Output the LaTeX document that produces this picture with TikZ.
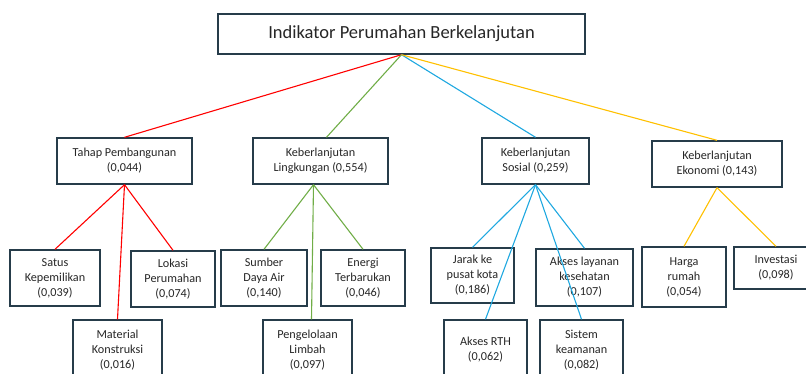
\documentclass[tikz,border=0pt]{standalone}
\usepackage{fontspec}
\setmainfont{Carlito}
\definecolor{bingkai}{HTML}{263C4A}
\definecolor{tahap}{HTML}{FF0000}
\definecolor{lingkungan}{HTML}{70AD47}
\definecolor{sosial}{HTML}{1FA8E0}
\definecolor{ekonomi}{HTML}{FFC000}
\usetikzlibrary{positioning}

\begin{document}
\begin{tikzpicture}[
  x=1pt, y=-1pt,
  ind/.style={draw=bingkai, line width=1.4pt, inner sep=0pt, align=center,
              font=\fontsize{12.2}{15}\selectfont, text=black!85},
  garis/.style={line width=1.1pt},
]
\useasboundingbox (0,0) rectangle (806,374);
\node[ind, minimum width=367pt, minimum height=40pt,
      font=\fontsize{18.5}{20}\selectfont] (utama) at (401.5,34)
  {Indikator Perumahan Berkelanjutan};

\node[ind, minimum width=135pt, minimum height=46pt] (k1) at (124.5,161)
  {Tahap Pembangunan\\(0,044)};
\node[ind, minimum width=135pt, minimum height=46pt] (k2) at (320.5,161)
  {Keberlanjutan\\Lingkungan (0,554)};
\node[ind, minimum width=107pt, minimum height=46pt] (k3) at (535.5,161)
  {Keberlanjutan\\Sosial (0,259)};
\node[ind, minimum width=130pt, minimum height=46pt] (k4) at (717,164)
  {Keberlanjutan\\Ekonomi (0,143)};

\node[ind, minimum width=90pt, minimum height=56pt] (s1) at (55,278)
  {Satus\\Kepemilikan\\(0,039)};
\node[ind, minimum width=84pt, minimum height=56pt] (s2) at (173,279)
  {Lokasi\\Perumahan\\(0,074)};
\node[ind, minimum width=89pt, minimum height=60pt] (s3) at (117.5,350)
  {Material\\Konstruksi\\(0,016)};

\node[ind, minimum width=86pt, minimum height=56pt] (l1) at (264,278)
  {Sumber\\Daya Air\\(0,140)};
\node[ind, minimum width=84pt, minimum height=56pt] (l2) at (363,278)
  {Energi\\Terbarukan\\(0,046)};
\node[ind, minimum width=89pt, minimum height=60pt] (l3) at (307.5,350)
  {Pengelolaan\\Limbah\\(0,097)};

\node[ind, minimum width=83pt, minimum height=55pt] (o1) at (472.5,275.5)
  {Jarak ke\\pusat kota\\(0,186)};
\node[ind, minimum width=97pt, minimum height=57pt] (o2) at (584.5,277.5)
  {Akses layanan\\kesehatan\\(0,107)};
\node[ind, minimum width=83pt, minimum height=60pt] (o3) at (485.5,350)
  {Akses RTH\\(0,062)};
\node[ind, minimum width=83pt, minimum height=60pt] (o4) at (581.5,350)
  {Sistem\\keamanan\\(0,082)};

\node[ind, minimum width=84pt, minimum height=60pt] (e1) at (684,277)
  {Harga\\rumah\\(0,054)};
\node[ind, minimum width=84pt, minimum height=42pt] (e2) at (776,268)
  {Investasi\\(0,098)};

\draw[garis, tahap] (utama.south) -- (k1.north);
\draw[garis, lingkungan] (utama.south) -- ([xshift=6pt]k2.north);
\draw[garis, sosial] (utama.south) -- (k3.north);
\draw[garis, ekonomi] (utama.south) -- (k4.north);

\draw[garis, tahap] (k1.south) -- (s1.north);
\draw[garis, tahap] (k1.south) -- (s2.north);
\draw[garis, tahap] (k1.south) -- (s3.north);

\draw[garis, lingkungan] ([xshift=-7pt]k2.south) -- (l1.north);
\draw[garis, lingkungan] ([xshift=-7pt]k2.south) -- (l2.north);
\draw[garis, lingkungan] ([xshift=-7pt]k2.south) -- ([xshift=4pt]l3.north);

\draw[garis, sosial] (k3.south) -- (o1.north);
\draw[garis, sosial] (k3.south) -- (o2.north);
\draw[garis, sosial] (k3.south) -- (o3.north);
\draw[garis, sosial] (k3.south) -- (o4.north);

\draw[garis, ekonomi] (k4.south) -- (e1.north);
\draw[garis, ekonomi] (k4.south) -- (e2.north);
\end{tikzpicture}
\end{document}
